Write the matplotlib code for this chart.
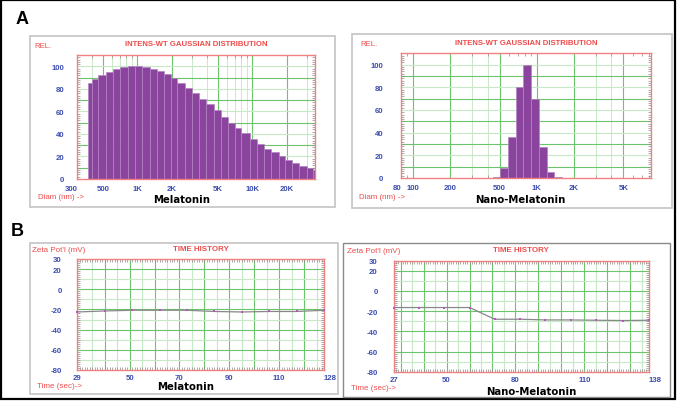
import matplotlib
matplotlib.use('Agg')
import matplotlib.pyplot as plt
from matplotlib.patches import Rectangle
from matplotlib.ticker import MultipleLocator, NullFormatter

plt.rcParams['font.family'] = ['Liberation Sans', 'DejaVu Sans']
plt.rcParams['axes.unicode_minus'] = False

# size distributions (bin edges in nm, relative intensity)
mel_edges = [369, 400, 458, 529, 614, 702, 832, 953, 1090, 1274, 1479, 1693, 1939,
             2220, 2576, 2970, 3400, 3947, 4610, 5350, 6127, 7015, 8030, 9510, 10890,
             12640, 14570, 16910, 19360, 22170, 25380, 29660, 33730, 38000]
mel_heights = [85, 88.5, 92, 95, 98, 99.4, 100, 100, 99.4, 98, 96, 93, 90, 85.5, 81,
               76.7, 71.4, 66.4, 61, 55, 50, 45, 40.4, 35.4, 31, 27, 23.6, 20, 17, 14,
               11.8, 9.7, 8.3]
nano_edges = [440, 504, 589, 675, 779, 899, 1031, 1205, 1381, 1594]
nano_heights = [1.2, 8.8, 36, 80, 100, 70, 27, 5.6, 0.9]

mel_xticks = [300, 500, 1000, 2000, 5000, 10000, 20000]
mel_xlabels = ['300', '500', '1K', '2K', '5K', '10K', '20K']
nano_xticks = [80, 100, 200, 500, 1000, 2000, 5000]
nano_xlabels = ['80', '100', '200', '500', '1K', '2K', '5K']
rel_ticks = [0, 20, 40, 60, 80, 100]

# zeta potential time history
mel_t = [29, 40, 51, 62, 73, 84, 95, 106, 117, 128]
mel_zeta = [-22.5, -21.5, -20.8, -20.8, -20.8, -22, -22.5, -22, -22, -20.8]
nano_t = [27, 38, 49, 60, 71, 82, 93, 104, 115, 127, 138]
nano_zeta = [-16.4, -16.4, -16.4, -16.4, -28, -28, -28.7, -28.7, -29, -29.3, -29]

mel_tticks = [29, 50, 70, 90, 110, 128]
nano_tticks = [27, 50, 80, 110, 138]
zeta_ticks = [30, 20, 0, -20, -40, -60, -80]

W, H = 677, 402
RED = '#ee4b4b'
BLUE = '#3b4db0'
GRID = '#6cc46c'
GRID_LT = '#c8e9c8'
PURPLE = '#8b449e'

fig = plt.figure(figsize=(W / 100, H / 100), dpi=100)


def px(x, y):
    return x / W, 1 - y / H


def box(x0, y0, x1, y1, color='#c4c4c4', lw=1.2):
    fig.patches.append(Rectangle(px(x0, y1), (x1 - x0) / W, (y1 - y0) / H,
                                 transform=fig.transFigure, fill=False,
                                 edgecolor=color, lw=lw))


def txt(x, y, s, **kw):
    fig.text(*px(x, y), s, va='center', **kw)


def make_ax(x0, y0, x1, y1):
    ax = fig.add_axes([x0 / W, 1 - y1 / H, (x1 - x0) / W, (y1 - y0) / H])
    for sp in ax.spines.values():
        sp.set_color('#f08080')
        sp.set_linewidth(1.0)
    return ax


def style_ticks(ax, ypad, xpad, first_right=False, last_left=False):
    ax.tick_params(which='major', direction='in', length=0, colors=BLUE,
                   labelsize=5.6)
    ax.tick_params(axis='y', pad=ypad)
    ax.tick_params(axis='x', pad=xpad)
    ax.tick_params(which='minor', direction='in', length=2, width=0.5,
                   color='#8a8a8a', top=True, right=True, left=True, bottom=True)
    ax.xaxis.set_minor_formatter(NullFormatter())
    labs = ax.get_xticklabels()
    for lab in labs + ax.get_yticklabels():
        lab.set_fontweight('bold')
    if first_right:
        labs[0].set_horizontalalignment('right')
    if last_left:
        labs[-1].set_horizontalalignment('left')


# outer frame
fig.patches.append(Rectangle((0.8 / W, 1 - 399.5 / H), 674.5 / W, 398.5 / H,
                             transform=fig.transFigure, fill=False,
                             edgecolor='black', lw=1.6))

txt(22, 19, 'A', fontsize=13, fontweight='bold', ha='center')
txt(17, 232, 'B', fontsize=13, fontweight='bold', ha='center')

# ---- A left: Melatonin size distribution
box(30, 37, 335, 208)
ax = make_ax(77.3, 56, 315, 180)
ax.set_xscale('log')
ax.set_xlim(300, 35000)
ax.set_ylim(0, 110)
for g in [400, 600, 700, 800, 900, 3000, 4000, 6000, 7000, 8000, 9000, 30000]:
    ax.axvline(g, color=GRID_LT, lw=0.7, zorder=0)
for g in [500, 1000, 2000, 5000, 10000, 20000]:
    ax.axvline(g, color=GRID, lw=0.8, zorder=0)
for g in range(10, 110, 10):
    ax.axhline(g, color=GRID if g % 20 else GRID_LT, lw=0.8, zorder=0)
ax.bar(mel_edges[:-1], mel_heights,
       width=[b - a for a, b in zip(mel_edges[:-1], mel_edges[1:])],
       align='edge', color=PURPLE, edgecolor='#b483c4', lw=0.5, zorder=2)
ax.set_xticks(mel_xticks, mel_xlabels)
ax.set_yticks(rel_ticks)
ax.yaxis.set_minor_locator(MultipleLocator(2))
style_ticks(ax, ypad=9.6, xpad=4.3, first_right=True)
txt(34, 46, 'REL.', color=RED, fontsize=5.6)
txt(196, 44, 'INTENS-WT GAUSSIAN DISTRIBUTION', color=RED, fontsize=5.6,
    fontweight='bold', ha='center')
txt(38, 198, 'Diam (nm) ->', color=RED, fontsize=5.7)
txt(182, 200, 'Melatonin', fontsize=7.3, fontweight='bold', ha='center',
    family='DejaVu Sans')

# ---- A right: Nano-Melatonin size distribution
box(352, 35, 671.5, 208.5)
ax = make_ax(401, 54.3, 650.7, 179)
ax.set_xscale('log')
ax.set_xlim(80, 8300)
ax.set_ylim(0, 110)
for g in [300, 400, 3000, 4000]:
    ax.axvline(g, color=GRID_LT, lw=0.7, zorder=0)
for g in [100, 200, 500, 1000, 2000, 5000]:
    ax.axvline(g, color=GRID, lw=0.8, zorder=0)
for g in range(10, 110, 10):
    ax.axhline(g, color=GRID if g % 20 else GRID_LT, lw=0.8, zorder=0)
ax.bar(nano_edges[:-1], nano_heights,
       width=[b - a for a, b in zip(nano_edges[:-1], nano_edges[1:])],
       align='edge', color=PURPLE, edgecolor='#b483c4', lw=0.5, zorder=2)
ax.set_xticks(nano_xticks, nano_xlabels)
ax.set_yticks(rel_ticks)
ax.yaxis.set_minor_locator(MultipleLocator(2))
style_ticks(ax, ypad=12.7, xpad=4.0, first_right=True)
txt(360, 44, 'REL.', color=RED, fontsize=5.6)
txt(526, 43.5, 'INTENS-WT GAUSSIAN DISTRIBUTION', color=RED, fontsize=5.6,
    fontweight='bold', ha='center')
txt(359, 197.5, 'Diam (nm) ->', color=RED, fontsize=5.7)
txt(520, 200, 'Nano-Melatonin', fontsize=7.3, fontweight='bold', ha='center',
    family='DejaVu Sans')

# ---- B left: Melatonin zeta potential
box(29.5, 243.5, 337.5, 395)
ax = make_ax(77.3, 260, 324, 371)
ax.set_xlim(29, 128)
ax.set_ylim(-80, 30)
for i, g in enumerate(range(35, 128, 5)):
    ax.axvline(g, color=GRID if i % 2 else GRID_LT, lw=0.8, zorder=0)
for i, g in enumerate(range(-70, 30, 10)):
    ax.axhline(g, color=GRID if i % 2 else GRID_LT, lw=0.8, zorder=0)
ax.plot(mel_t, mel_zeta, color='#888888', lw=0.9, zorder=2)
ax.plot(mel_t, mel_zeta, 's', color='#c050c8', ms=1.8, mew=0, zorder=3,
        clip_on=False)
ax.set_xticks(mel_tticks)
ax.set_yticks(zeta_ticks)
ax.xaxis.set_minor_locator(MultipleLocator(1))
ax.yaxis.set_minor_locator(MultipleLocator(2))
style_ticks(ax, ypad=11.2, xpad=3.0, last_left=True)
txt(32.5, 251, "Zeta Pot'l (mV)", color=RED, fontsize=5.8)
txt(201, 250, 'TIME HISTORY', color=RED, fontsize=5.7, fontweight='bold',
    ha='center')
txt(37, 387, 'Time (sec)->', color=RED, fontsize=5.8)
txt(186, 387.5, 'Melatonin', fontsize=7.3, fontweight='bold', ha='center',
    family='DejaVu Sans')

# ---- B right: Nano-Melatonin zeta potential
box(342.5, 244, 670, 397.5, color='#8a8a8a', lw=1.0)
ax = make_ax(393.7, 261.7, 648.7, 372.7)
ax.set_xlim(27, 138)
ax.set_ylim(-80, 30)
for g in range(30, 138, 5):
    ax.axvline(g, color=GRID if g % 10 == 0 else GRID_LT, lw=0.8, zorder=0)
for i, g in enumerate(range(-70, 30, 10)):
    ax.axhline(g, color=GRID if i % 2 else GRID_LT, lw=0.8, zorder=0)
ax.plot(nano_t, nano_zeta, color='#888888', lw=0.9, zorder=2)
ax.plot(nano_t, nano_zeta, 's', color='#c050c8', ms=1.8, mew=0, zorder=3,
        clip_on=False)
ax.set_xticks(nano_tticks)
ax.set_yticks(zeta_ticks)
ax.xaxis.set_minor_locator(MultipleLocator(1))
ax.yaxis.set_minor_locator(MultipleLocator(2))
style_ticks(ax, ypad=11.5, xpad=3.3, last_left=True)
txt(347, 252, "Zeta Pot'l (mV)", color=RED, fontsize=5.8)
txt(521, 251, 'TIME HISTORY', color=RED, fontsize=5.7, fontweight='bold',
    ha='center')
txt(351, 388.5, 'Time (sec)->', color=RED, fontsize=5.8)
txt(531, 392, 'Nano-Melatonin', fontsize=7.3, fontweight='bold', ha='center',
    family='DejaVu Sans')

fig.savefig('out.png', dpi=100)
